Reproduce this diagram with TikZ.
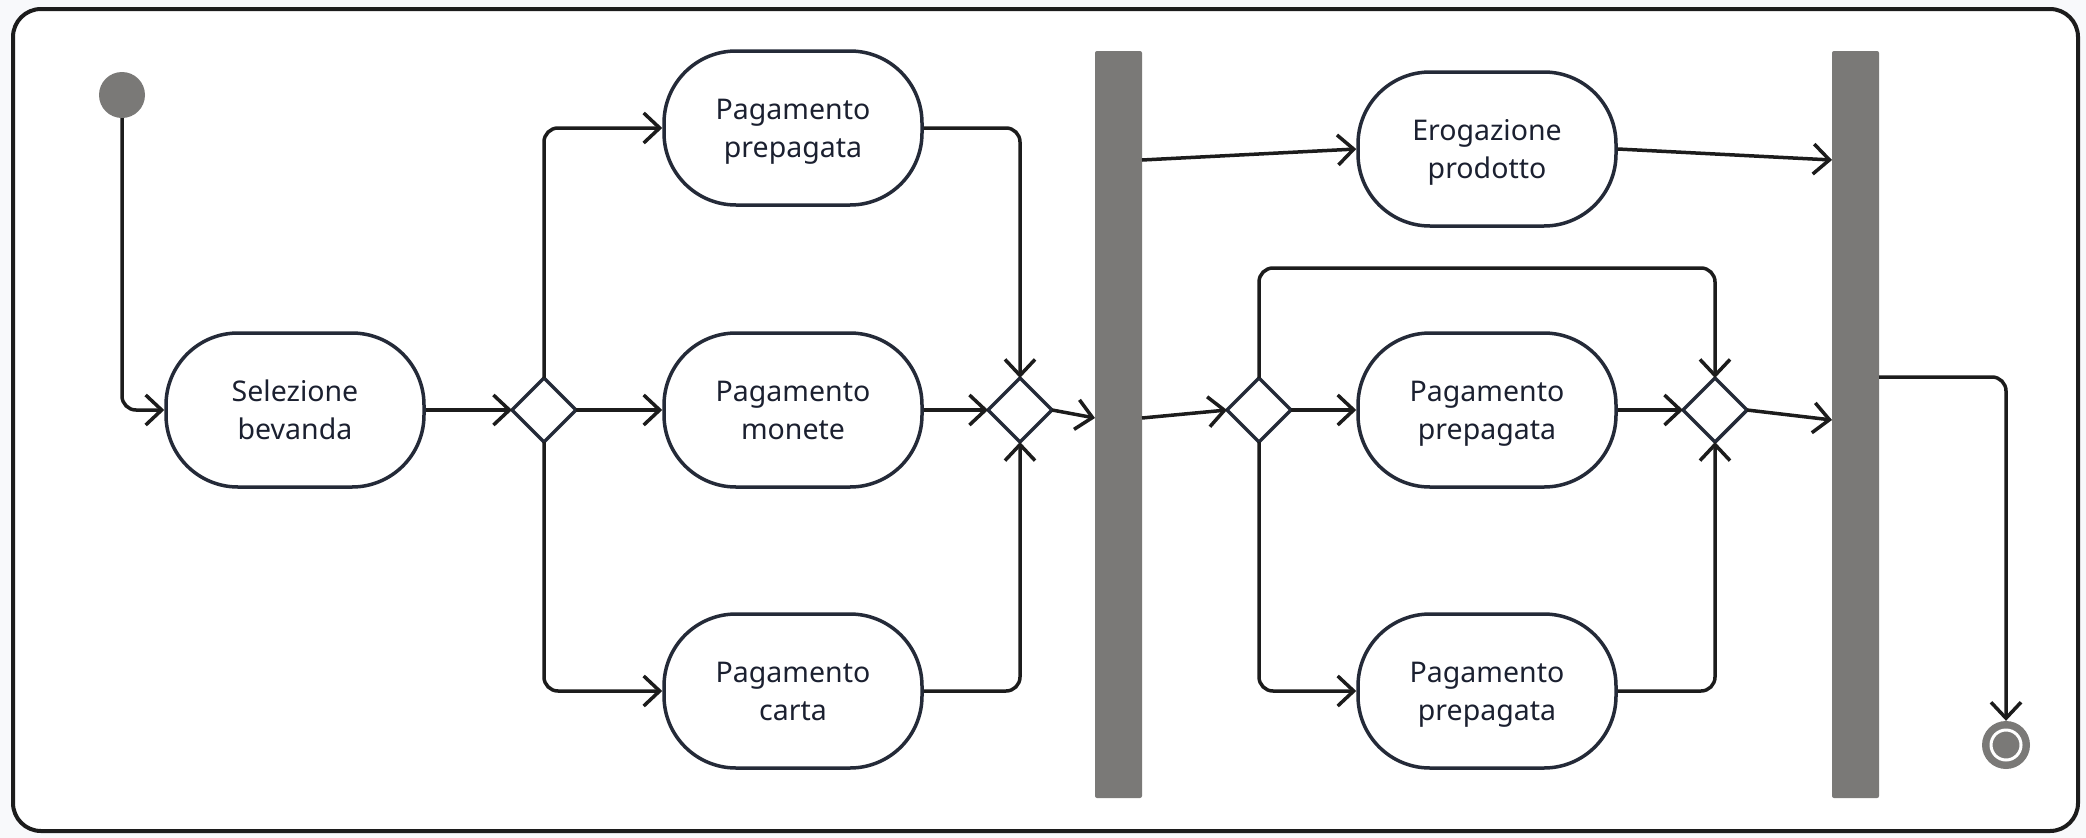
\documentclass[tikz,border=0pt]{standalone}
\usepackage{fontspec}
\setmainfont{Noto Sans}
\usetikzlibrary{arrows.meta,shapes.geometric,calc}
\definecolor{barg}{HTML}{7A7977}
\definecolor{ink}{HTML}{1C1C1C}
\definecolor{navy}{HTML}{242A38}
\definecolor{txt}{HTML}{1B2030}
\definecolor{bgc}{HTML}{F8F9FB}
\newcommand{\acttext}[1]{\raisebox{8.5pt}[0pt][0pt]{\parbox[t]{250pt}{\centering #1}}}
\begin{document}
\begin{tikzpicture}[x=1pt,y=-1pt,
  act/.style={draw=navy, line width=3.5pt, fill=white, rounded corners=72pt,
    minimum width=258pt, minimum height=154pt, text=txt,
    font=\fontsize{28.5}{38}\selectfont, inner sep=0pt},
  dia/.style={draw=navy, line width=3.5pt, diamond, fill=white,
    minimum width=64pt, minimum height=64pt, inner sep=0pt, outer sep=0pt},
  bar/.style={fill=barg, minimum width=47pt, minimum height=747pt, inner sep=0pt, rounded corners=2pt},
  flow/.style={draw=ink, line width=3.5pt, rounded corners=14pt,
    -{Straight Barb[length=16pt,width=30pt]}},
  startnode/.style={circle, fill=barg, minimum size=46pt, inner sep=0pt},
  endnode/.style={circle, fill=barg, minimum size=48pt, inner sep=0pt,
    path picture={\draw[white, line width=3pt] (path picture bounding box.center) circle (15pt);}}
]
\useasboundingbox (0,0) rectangle (2086,838);
\fill[bgc] (0,0) rectangle (2086,838);
\draw[ink, line width=4pt, fill=white, rounded corners=28pt] (13,9) rectangle (2078,831);

% nodes
\node[startnode] (init) at (122,95) {};
\node[act] (sel) at (295,410) {\acttext{Selezione\\bevanda}};
\node[dia] (dec1) at (544,410) {};
\node[act] (pp1) at (793,128) {\acttext{Pagamento\\prepagata}};
\node[act] (mon) at (793,410) {\acttext{Pagamento\\monete}};
\node[act] (car) at (793,691) {\acttext{Pagamento\\carta}};
\node[dia] (mer1) at (1020,410) {};
\node[bar] (bar1) at (1118.5,424.5) {};
\node[act] (ero) at (1487,149) {\acttext{Erogazione\\prodotto}};
\node[dia] (dec2) at (1259,410) {};
\node[act] (pp2) at (1487,410) {\acttext{Pagamento\\prepagata}};
\node[act] (pp3) at (1487,691) {\acttext{Pagamento\\prepagata}};
\node[dia] (mer2) at (1715,410) {};
\node[bar] (bar2) at (1855.5,424.5) {};
\node[endnode] (fin) at (2006,745) {};

% coordinates on bars
\coordinate (b1in) at (1095,418);
\coordinate (b1outA) at (1142,160);
\coordinate (b1outB) at (1142,418);
\coordinate (b2inA) at (1832,160);
\coordinate (b2inB) at (1832,420);
\coordinate (b2out) at (1879,377);
\coordinate (loopy) at (0,268);

% connectors
\draw[flow] (init.south) |- (sel.west);
\draw[flow] (sel.east) -- (dec1.west);
\draw[flow] (dec1.north) |- (pp1.west);
\draw[flow] (dec1.east) -- (mon.west);
\draw[flow] (dec1.south) |- (car.west);
\draw[flow] (pp1.east) -| (mer1.north);
\draw[flow] (mon.east) -- (mer1.west);
\draw[flow] (car.east) -| (mer1.south);
\draw[flow] (mer1.east) -- (b1in);
\draw[flow] (b1outA) -- (ero.west);
\draw[flow] (b1outB) -- (dec2.west);
\draw[flow] (ero.east) -- (b2inA);
\draw[flow] (dec2.east) -- (pp2.west);
\draw[flow] (dec2.north) -- (dec2.north |- loopy) -- (mer2.north |- loopy) -- (mer2.north);
\draw[flow] (dec2.south) |- (pp3.west);
\draw[flow] (pp2.east) -- (mer2.west);
\draw[flow] (pp3.east) -| (mer2.south);
\draw[flow] (mer2.east) -- (b2inB);
\draw[flow] (b2out) -| (fin.north);
\end{tikzpicture}
\end{document}
